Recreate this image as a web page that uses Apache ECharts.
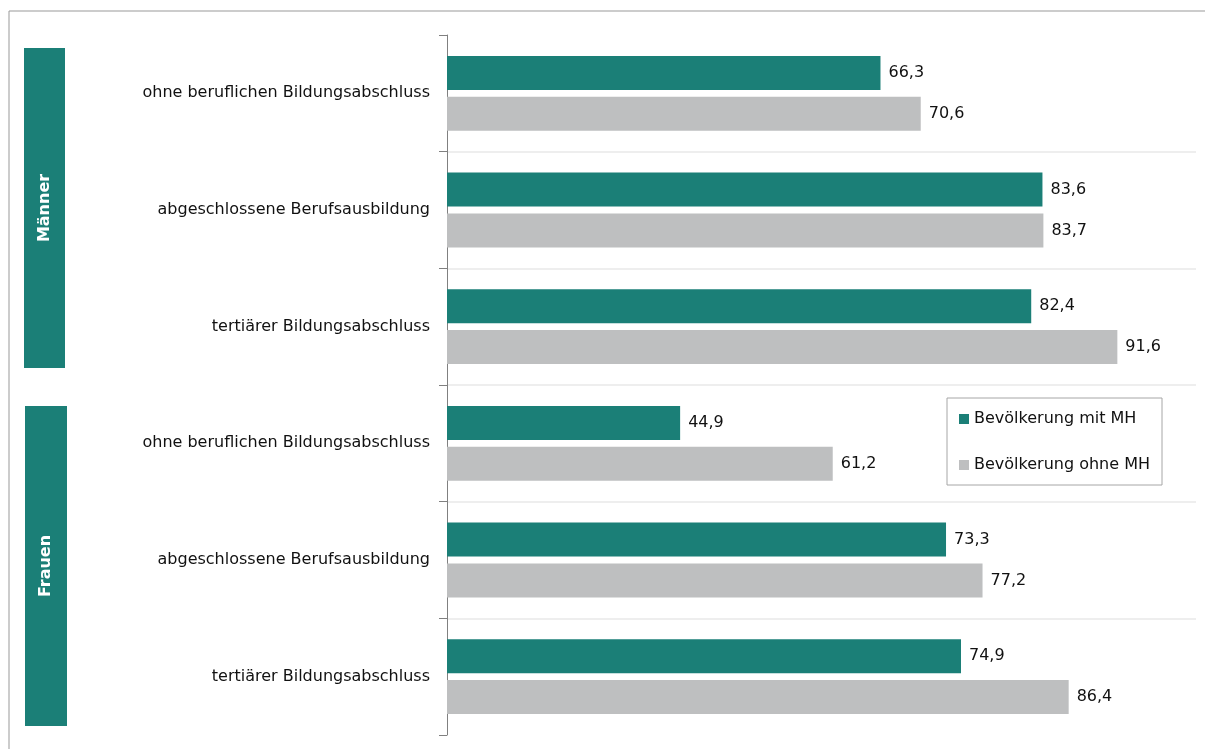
<!DOCTYPE html>
<html>
<head>
<meta charset="utf-8">
<script src="https://cdn.jsdelivr.net/npm/echarts@6/dist/echarts.min.js"></script>
<style>
html,body{margin:0;padding:0;background:#fff;}
#chart{width:1205px;height:749px;}
</style>
</head>
<body>
<div id="chart"></div>
<script>
var categories = [
  'ohne beruflichen Bildungsabschluss',
  'abgeschlossene Berufsausbildung',
  'tertiärer Bildungsabschluss',
  'ohne beruflichen Bildungsabschluss',
  'abgeschlossene Berufsausbildung',
  'tertiärer Bildungsabschluss'
];
var groups = ['Männer', 'Frauen'];
var seriesNames = ['Bevölkerung mit MH', 'Bevölkerung ohne MH'];
var mitMH = [66.3, 83.6, 82.4, 44.9, 73.3, 74.9];
var ohneMH = [70.6, 83.7, 91.6, 61.2, 77.2, 86.4];

var TEAL = '#1B7F77';
var GRAY = '#BEBFC0';
var FONT = 'DejaVu Sans';

var chart = echarts.init(document.getElementById('chart'));

function lbl() {
  return {
    show: true,
    position: 'right',
    distance: 8,
    fontFamily: FONT,
    fontSize: 16,
    color: '#111',
    padding: [3, 0, 0, 0],
    formatter: function (p) { return p.value.toFixed(1).replace('.', ','); }
  };
}

chart.setOption({
  backgroundColor: '#fff',
  animation: false,
  textStyle: { fontFamily: FONT },
  grid: { left: 447, right: 9, top: 35, bottom: 14, containLabel: false },
  legend: {
    orient: 'vertical',
    left: 947,
    top: 398,
    data: seriesNames,
    icon: 'rect',
    itemWidth: 10,
    itemHeight: 10,
    itemGap: 30,
    padding: [13, 12, 12, 12],
    borderColor: '#A6A6A6',
    borderWidth: 1,
    backgroundColor: '#fff',
    textStyle: { fontFamily: FONT, fontSize: 16, color: '#111' }
  },
  xAxis: {
    type: 'value',
    min: 20,
    max: 100,
    show: false,
    splitLine: { show: false }
  },
  yAxis: {
    type: 'category',
    data: categories,
    inverse: true,
    axisLine: { show: true, lineStyle: { color: '#808080', width: 1 } },
    axisTick: { show: true, length: 8, lineStyle: { color: '#808080' } },
    axisLabel: { fontFamily: FONT, fontSize: 16, color: '#111', margin: 17, padding: [5, 0, 0, 0] },
    splitLine: {
      show: true,
      lineStyle: { color: ['rgba(0,0,0,0)', '#E8E8E8', '#E8E8E8', '#E8E8E8', '#E8E8E8', '#E8E8E8', 'rgba(0,0,0,0)'], width: 1.5 }
    }
  },
  series: [
    {
      name: seriesNames[0],
      type: 'bar',
      data: mitMH,
      barWidth: 34,
      barGap: '20%',
      itemStyle: { color: TEAL },
      label: lbl()
    },
    {
      name: seriesNames[1],
      type: 'bar',
      data: ohneMH,
      barWidth: 34,
      barGap: '20%',
      itemStyle: { color: GRAY },
      label: lbl()
    }
  ],
  graphic: [
    { type: 'line', shape: { x1: 9, y1: 11, x2: 1205, y2: 11 }, style: { stroke: '#999', lineWidth: 1 } },
    { type: 'line', shape: { x1: 9, y1: 11, x2: 9, y2: 749 }, style: { stroke: '#999', lineWidth: 1 } },
    { type: 'rect', shape: { x: 24, y: 48, width: 41, height: 320 }, style: { fill: TEAL } },
    { type: 'rect', shape: { x: 25, y: 406, width: 42, height: 320 }, style: { fill: TEAL } },
    { type: 'text', x: 45, y: 208, rotation: Math.PI / 2,
      style: { text: groups[0], fill: '#fff', font: 'bold 16px "DejaVu Sans"', align: 'center', verticalAlign: 'middle' } },
    { type: 'text', x: 46, y: 566, rotation: Math.PI / 2,
      style: { text: groups[1], fill: '#fff', font: 'bold 16px "DejaVu Sans"', align: 'center', verticalAlign: 'middle' } }
  ]
});
</script>
</body>
</html>
